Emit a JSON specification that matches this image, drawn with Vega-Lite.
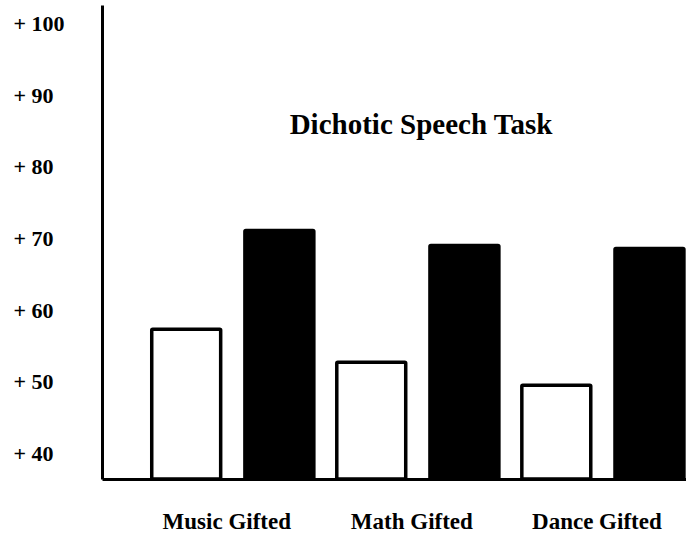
{
  "$schema": "https://vega.github.io/schema/vega-lite/v6.json",
  "autosize": "none",
  "width": 584,
  "height": 474,
  "padding": {"left": 102, "top": 5, "right": 0, "bottom": 59},
  "background": "white",
  "title": {
    "text": "Dichotic Speech Task",
    "orient": "top",
    "anchor": "middle",
    "frame": "group",
    "offset": 0,
    "baseline": "alphabetic",
    "dx": 27,
    "dy": 158,
    "font": "Liberation Serif",
    "fontSize": 29,
    "fontWeight": "bold",
    "color": "black"
  },
  "config": {
    "view": {"stroke": null},
    "axis": {"grid": false, "domainColor": "black", "domainWidth": 3, "ticks": false, "tickSize": 0, "labelColor": "black", "labelFont": "Liberation Serif", "labelFontWeight": "bold", "title": null}
  },
  "data": {
    "values": [
      {"group": "Music Gifted", "ear": "Left ear", "score": 57.3},
      {"group": "Music Gifted", "ear": "Right ear", "score": 71.1},
      {"group": "Math Gifted", "ear": "Left ear", "score": 52.7},
      {"group": "Math Gifted", "ear": "Right ear", "score": 69.0},
      {"group": "Dance Gifted", "ear": "Left ear", "score": 49.5},
      {"group": "Dance Gifted", "ear": "Right ear", "score": 68.6}
    ]
  },
  "mark": {"type": "bar", "stroke": "black", "strokeWidth": 3.5, "cornerRadius": 1},
  "encoding": {
    "x": {
      "field": "group",
      "type": "nominal",
      "sort": ["Music Gifted", "Math Gifted", "Dance Gifted"],
      "scale": {"paddingInner": 0.124, "paddingOuter": 0.14, "align": 0.96},
      "axis": {"labelAngle": 0, "labelFontSize": 23, "labelPadding": 49, "labelBaseline": "alphabetic", "labelOffset": -6}
    },
    "xOffset": {
      "field": "ear",
      "type": "nominal",
      "sort": ["Left ear", "Right ear"],
      "scale": {"paddingInner": 0.26, "paddingOuter": 0}
    },
    "y": {
      "field": "score",
      "type": "quantitative",
      "scale": {"domain": [36.4, 102.6], "nice": false, "zero": false},
      "axis": {"values": [40, 50, 60, 70, 80, 90, 100], "labelExpr": "'+  ' + datum.value", "labelAlign": "left", "labelPadding": 89, "labelFontSize": 22, "labelBaseline": "middle"}
    },
    "y2": {"datum": 36.4},
    "fill": {
      "field": "ear",
      "type": "nominal",
      "scale": {"domain": ["Left ear", "Right ear"], "range": ["white", "black"]},
      "legend": null
    }
  }
}
